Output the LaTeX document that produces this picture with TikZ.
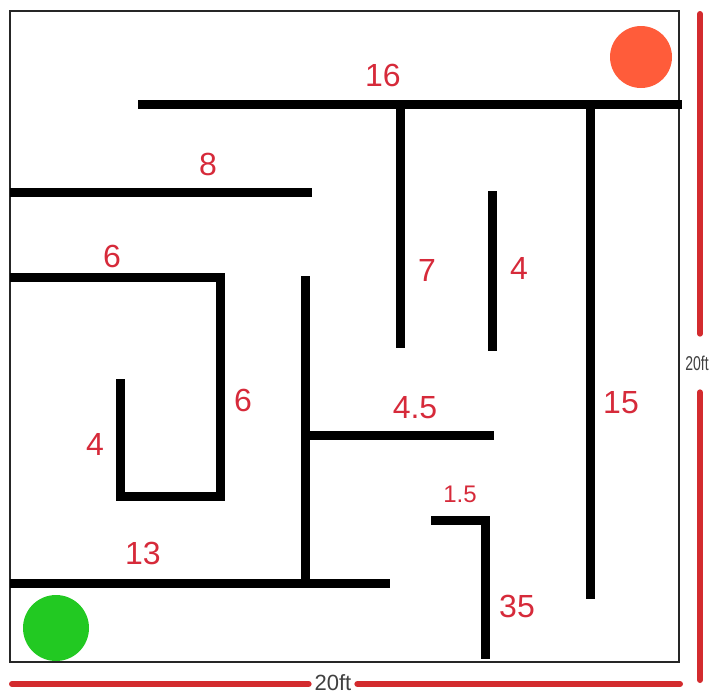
\documentclass[tikz,border=0pt]{standalone}
\usepackage{fontspec}
\setmainfont{Liberation Sans}
\definecolor{lblred}{HTML}{D62A3A}
\definecolor{dimred}{HTML}{D32B2E}
\definecolor{startgreen}{HTML}{22C922}
\definecolor{goalorange}{HTML}{FF5C3A}
\begin{document}
\begin{tikzpicture}[x=1pt,y=-1pt,
  wall/.style={line width=9pt,line cap=rect,line join=miter},
  lbl/.style={text=lblred,font=\fontsize{32}{32}\selectfont,inner sep=0pt},
  dimline/.style={dimred,line width=6pt,line cap=round},
  dimtxt/.style={text=black!75,font=\fontsize{22}{22}\selectfont,inner sep=0pt,outer sep=6pt}]
\useasboundingbox (0,0) rectangle (712,697);
% outer box
\draw[line width=1.5pt,black!85] (10,11) rectangle (679,662);
% walls
\draw[wall] (142,104) -- (677,104);
\draw[wall] (400,104) -- (400,343);
\draw[wall] (590,104) -- (590,594);
\draw[wall] (492,195) -- (492,346);
\draw[wall] (14,192) -- (307,192);
\draw[wall] (14,277) -- (220,277) -- (220,496) -- (120,496) -- (120,383);
\draw[wall] (305,280) -- (305,581);
\draw[wall] (305,435) -- (489,435);
\draw[wall] (14,583) -- (385,583);
\draw[wall] (435,520) -- (485,520) -- (485,654);
% start and goal
\fill[startgreen] (56,628) circle (33);
\fill[goalorange] (641,57) circle (31);
% labels
\node[lbl] (l16) at (383,75) {16};
\node[lbl] (l8) at (208,164) {8};
\node[lbl] (l6a) at (112,256) {6};
\node[lbl] (l7) at (427,270) {7};
\node[lbl] (l4a) at (519,268) {4};
\node[lbl] (l6b) at (243,400) {6};
\node[lbl] (l4b) at (95,444) {4};
\node[lbl] (l15) at (621,403) {15};
\node[lbl] (l45) at (415,408) {4.5};
\node[lbl,font=\fontsize{24}{24}\selectfont] (l15b) at (460,494) {1.5};
\node[lbl] (l13) at (143,553) {13};
\node[lbl] (l35) at (517,606) {35};
% dimensions
\node[dimtxt] (dimb) at (333,683) {20ft};
\node[dimtxt,font=\fontsize{20}{20}\selectfont,xscale=0.7,outer sep=22pt] (dimr) at (697,363) {20ft};
\coordinate (bl) at (12,684);
\coordinate (br) at (680,684);
\coordinate (rt) at (700,14);
\coordinate (rb) at (700,680);
\draw[dimline] (bl) -- (bl -| dimb.west);
\draw[dimline] (br -| dimb.east) -- (br);
\draw[dimline] (rt) -- (rt |- dimr.north);
\draw[dimline] (rb |- dimr.south) -- (rb);
\end{tikzpicture}
\end{document}
